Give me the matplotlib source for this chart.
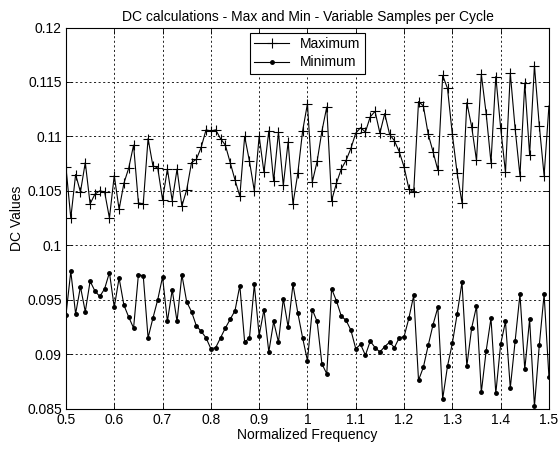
"""DC calculations - max and min values for variable samples per cycle."""

import numpy as np
import matplotlib
matplotlib.use("Agg")
import matplotlib.pyplot as plt

plt.rcParams['font.family'] = ['Liberation Sans', 'DejaVu Sans']

# normalized frequency, step 0.01 from 0.5 to 1.5
freq = np.round(np.arange(0.5, 1.5001, 0.01), 2)

dc_max = [
    0.1072, 0.1025, 0.1065, 0.1049, 0.1076, 0.1038, 0.1047, 0.1050, 0.1049, 0.1025,
    0.1064, 0.1033, 0.1057, 0.1071, 0.1092, 0.1039, 0.1038, 0.1098, 0.1073, 0.1071,
    0.1042, 0.1070, 0.1041, 0.1070, 0.1036, 0.1051, 0.1076, 0.1079, 0.1090, 0.1106,
    0.1105, 0.1106, 0.1098, 0.1092, 0.1076, 0.1060, 0.1045, 0.1100, 0.1077, 0.1050,
    0.1100, 0.1067, 0.1105, 0.1059, 0.1104, 0.1055, 0.1095, 0.1038, 0.1066, 0.1105,
    0.1130, 0.1058, 0.1077, 0.1105, 0.1127, 0.1041, 0.1057, 0.1070, 0.1078, 0.1089,
    0.1103, 0.1108, 0.1104, 0.1118, 0.1123, 0.1103, 0.1121, 0.1102, 0.1096, 0.1086,
    0.1072, 0.1052, 0.1049, 0.1132, 0.1128, 0.1102, 0.1086, 0.1069, 0.1156, 0.1144,
    0.1102, 0.1066, 0.1039, 0.1131, 0.1109, 0.1078, 0.1157, 0.1121, 0.1076, 0.1155,
    0.1108, 0.1067, 0.1158, 0.1107, 0.1064, 0.1149, 0.1083, 0.1165, 0.1110, 0.1064,
    0.1128,
]

dc_min = [
    0.0936, 0.0976, 0.0937, 0.0962, 0.0939, 0.0967, 0.0958, 0.0953, 0.0960, 0.0975,
    0.0943, 0.0970, 0.0945, 0.0934, 0.0924, 0.0973, 0.0972, 0.0915, 0.0933, 0.0950,
    0.0971, 0.0930, 0.0959, 0.0930, 0.0973, 0.0948, 0.0939, 0.0926, 0.0921, 0.0915,
    0.0905, 0.0906, 0.0915, 0.0924, 0.0932, 0.0940, 0.0963, 0.0911, 0.0915, 0.0964,
    0.0917, 0.0941, 0.0902, 0.0930, 0.0911, 0.0951, 0.0925, 0.0964, 0.0938, 0.0915,
    0.0894, 0.0941, 0.0930, 0.0891, 0.0882, 0.0960, 0.0949, 0.0935, 0.0931, 0.0922,
    0.0905, 0.0909, 0.0899, 0.0912, 0.0906, 0.0902, 0.0907, 0.0911, 0.0906, 0.0915,
    0.0916, 0.0933, 0.0954, 0.0876, 0.0888, 0.0908, 0.0927, 0.0943, 0.0859, 0.0889,
    0.0910, 0.0937, 0.0966, 0.0889, 0.0924, 0.0944, 0.0865, 0.0903, 0.0933, 0.0864,
    0.0909, 0.0930, 0.0869, 0.0912, 0.0955, 0.0886, 0.0932, 0.0852, 0.0908, 0.0955,
    0.0879,
]

x_ticks = [0.5, 0.6, 0.7, 0.8, 0.9, 1.0, 1.1, 1.2, 1.3, 1.4, 1.5]
x_tick_labels = ["0.5", "0.6", "0.7", "0.8", "0.9", "1", "1.1", "1.2", "1.3", "1.4", "1.5"]
y_ticks = [0.085, 0.09, 0.095, 0.1, 0.105, 0.11, 0.115, 0.12]
y_tick_labels = ["0.085", "0.09", "0.095", "0.1", "0.105", "0.11", "0.115", "0.12"]

fig = plt.figure(figsize=(5.59, 4.51), dpi=100)
ax = fig.add_axes([0.118, 0.094, 0.864, 0.845])

ax.plot(freq, dc_max, color="black", linewidth=0.8, marker="+",
        markersize=7, markeredgewidth=0.8, label="Maximum")
ax.plot(freq, dc_min, color="black", linewidth=0.8, marker=".",
        markersize=5, label="Minimum")

ax.set_xlim(0.5, 1.5)
ax.set_ylim(0.085, 0.12)
ax.set_xticks(x_ticks)
ax.set_xticklabels(x_tick_labels)
ax.set_yticks(y_ticks)
ax.set_yticklabels(y_tick_labels)
ax.tick_params(direction="in", length=4, width=0.6, labelsize=10,
               top=True, right=True, pad=3)
ax.grid(True, color="black", linestyle=(0, (2.5, 3)), linewidth=0.6)
for s in ax.spines.values():
    s.set_linewidth(0.8)

ax.set_title("DC calculations - Max and Min - Variable Samples per Cycle",
             fontsize=10, pad=5)
ax.set_xlabel("Normalized Frequency", fontsize=10, labelpad=1)
ax.set_ylabel("DC Values", fontsize=10, labelpad=2)

leg = ax.legend(loc="upper center", fontsize=10, fancybox=False,
                framealpha=1, edgecolor="black", borderpad=0.3,
                handlelength=2.5, borderaxespad=0.4, labelspacing=0.3)
leg.get_frame().set_linewidth(0.8)

fig.savefig("out.png", dpi=100)
